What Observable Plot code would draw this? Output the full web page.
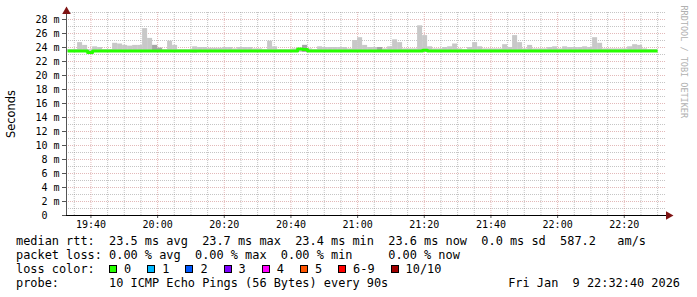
<!DOCTYPE html>
<html><head><meta charset="utf-8">
<script src="https://cdn.jsdelivr.net/npm/d3@7"></script>
<script src="https://cdn.jsdelivr.net/npm/@observablehq/plot@0.6"></script>
<style>
html,body{margin:0;padding:0;background:#fff;}
body{width:697px;height:297px;overflow:hidden;position:relative;}
#chart svg{display:block;}
.leg{position:absolute;left:16px;font:11.9px "DejaVu Sans Mono",monospace;line-height:14px;height:14px;white-space:pre;color:#000;}
.row{display:flex;align-items:center;}
.sw{display:inline-block;width:6px;height:6px;border:1px solid #000;margin-right:7px;}
.lab{margin-right:16px;}
#date{position:absolute;right:17px;top:276px;font:11.9px "DejaVu Sans Mono",monospace;line-height:14px;white-space:pre;color:#000;}
</style></head><body>
<div id="chart"></div>
<script>
// ---- data ----
const startTime = new Date(Date.UTC(2026, 0, 9, 19, 32, 40));
const endTime = new Date(Date.UTC(2026, 0, 9, 22, 32, 40));
const firstStep = new Date(Date.UTC(2026, 0, 9, 19, 33, 0));
const stepSeconds = 90;

// top of the smoke (ms) per 90 s step
const smokeMax = [
 23.7,23.7,24.7,24.3,23.7,24.1,24.0,23.7,23.7,24.6,
 24.5,24.3,24.2,24.3,24.3,26.7,25.3,24.3,23.9,23.7,
 24.9,24.3,23.7,23.7,23.7,24.1,24.0,24.0,23.9,23.9,
 23.9,24.0,24.0,23.8,24.0,24.0,24.0,23.8,23.8,23.7,
 24.9,24.1,23.7,23.7,23.7,23.8,23.8,24.3,23.8,23.7,
 24.1,24.0,24.0,24.0,24.0,24.0,23.8,25.0,25.4,24.3,
 24.0,24.0,24.0,23.8,24.1,25.1,24.7,23.8,23.8,23.8,
 27.1,25.7,24.1,23.8,23.8,24.0,24.1,24.5,23.8,23.7,
 24.0,24.7,24.1,23.8,23.8,23.8,23.8,24.4,24.0,25.7,
 24.7,23.8,24.3,23.8,23.8,23.8,24.0,24.1,23.8,24.1,
 24.0,24.0,24.0,24.1,24.0,25.4,24.6,23.8,23.8,23.8,
 23.8,23.8,24.1,24.4,24.3,23.8,23.7,23.7
];
// bottom of the smoke (ms)
const smokeMin = [
 23.3,23.3,23.3,23.3,23.2,23.3,23.3,23.3,23.3,23.3,
 23.3,23.3,23.3,23.3,23.3,23.3,23.3,23.3,23.3,23.3,
 23.3,23.3,23.3,23.3,23.3,23.2,23.3,23.3,23.3,23.3,
 23.3,23.3,23.3,23.3,23.3,23.3,23.3,23.3,23.3,23.3,
 23.3,23.3,23.3,23.3,23.3,23.3,23.3,23.3,23.3,23.3,
 23.3,23.3,23.3,23.3,23.3,23.3,23.3,23.3,23.3,23.3,
 23.3,23.3,23.3,23.3,23.3,23.3,23.3,23.3,23.3,23.3,
 23.3,23.3,23.3,23.3,23.3,23.3,23.3,23.3,23.3,23.3,
 23.3,23.3,23.3,23.3,23.3,23.3,23.3,23.3,23.3,23.3,
 23.3,23.3,23.3,23.3,23.3,23.3,23.3,23.3,23.3,23.3,
 23.3,23.3,23.3,23.3,23.3,23.3,23.3,23.3,23.3,23.3,
 23.3,23.3,23.3,23.3,23.3,23.3,23.3,23.3
];
// median rtt (ms)
const median = [
 23.5,23.5,23.5,23.5,23.3,23.5,23.5,23.5,23.5,23.5,
 23.5,23.5,23.5,23.5,23.5,23.5,23.5,23.5,23.5,23.5,
 23.5,23.5,23.5,23.5,23.5,23.5,23.5,23.5,23.5,23.5,
 23.5,23.5,23.5,23.5,23.5,23.5,23.5,23.5,23.5,23.5,
 23.5,23.5,23.5,23.5,23.5,23.5,23.8,23.7,23.5,23.5,
 23.5,23.5,23.5,23.5,23.5,23.5,23.5,23.5,23.5,23.5,
 23.5,23.5,23.5,23.5,23.5,23.5,23.5,23.5,23.5,23.5,
 23.5,23.6,23.5,23.5,23.5,23.5,23.5,23.5,23.5,23.5,
 23.5,23.5,23.5,23.5,23.5,23.5,23.5,23.5,23.5,23.5,
 23.5,23.5,23.5,23.5,23.5,23.5,23.5,23.5,23.5,23.5,
 23.5,23.5,23.5,23.5,23.5,23.5,23.5,23.5,23.5,23.5,
 23.5,23.5,23.5,23.5,23.5,23.5,23.5,23.5
];
// darker inner smoke on a few steps
const darkSteps = [17, 18, 47, 62];
const darkTop = [24.3, 23.9, 24.3, 24.0];

const yMajor = [0, 2, 4, 6, 8, 10, 12, 14, 16, 18, 20, 22, 24, 26, 28];
const yMinor = [1, 3, 5, 7, 9, 11, 13, 15, 17, 19, 21, 23, 25, 27, 29];
const xTickLabels = ["19:40", "20:00", "20:20", "20:40", "21:00", "21:20", "21:40", "22:00", "22:20"];

const lossLabels = ["0", "1", "2", "3", "4", "5", "6-9", "10/10"];
const lossColors = ["#26ff00", "#00b8ff", "#0059ff", "#7e00ff", "#ff00ff", "#ff5500", "#ff0000", "#a10000"];

const legendLines = [
  "median rtt:  23.5 ms avg  23.7 ms max  23.4 ms min  23.6 ms now  0.0 ms sd  587.2   am/s",
  "packet loss: 0.00 % avg  0.00 % max  0.00 % min     0.00 % now",
  "loss color:  ",
  "probe:       10 ICMP Echo Pings (56 Bytes) every 90s"
];
const dateText = "Fri Jan  9 22:32:40 2026";
const yLabel = "Seconds";
const watermark = "RRDTOOL / TOBI OETIKER";

// ---- build tables ----
const stepMs = stepSeconds * 1000;
const steps = smokeMax.map((hi, i) => ({
  t1: new Date(+firstStep + i * stepMs),
  t2: new Date(+firstStep + (i + 1) * stepMs),
  lo: smokeMin[i], hi
}));
const darkRows = darkSteps.map((k, j) => ({t1: steps[k].t1, t2: steps[k].t2, lo: smokeMin[k], hi: darkTop[j]}));
const medPts = median.map((v, i) => ({t: steps[i].t1, v}));
medPts.push({t: steps[steps.length - 1].t2, v: median[median.length - 1]});

const dayStr = "2026-01-09T";
const xMajor = xTickLabels.map(s => new Date(dayStr + s + ":00Z"));
const xMinor = d3.utcMinute.every(5).range(startTime, endTime).filter(d => d.getUTCMinutes() % 20 !== 0);

const gridMinor = {stroke: "#8c8c8c", strokeOpacity: 0.5, strokeDasharray: "1,1"};
const gridMajor = {stroke: "#d08a8a", strokeOpacity: 0.6, strokeDasharray: "1,1"};

const chart = Plot.plot({
  width: 697, height: 232,
  marginLeft: 66, marginRight: 31, marginTop: 12, marginBottom: 17,
  style: {fontFamily: "DejaVu Sans Mono", fontSize: "10px", background: "#fff", color: "#000", overflow: "visible"},
  x: {type: "utc", domain: [startTime, endTime]},
  y: {domain: [0, 29]},
  marks: [
    Plot.ruleY(yMinor, gridMinor),
    Plot.ruleY(yMajor.filter(v => v > 0), gridMajor),
    Plot.ruleX(xMinor, gridMinor),
    Plot.ruleX(xMajor, gridMajor),
    Plot.rect(steps, {x1: "t1", x2: "t2", y1: "lo", y2: "hi", fill: "#c8c8c8"}),
    Plot.rect(darkRows, {x1: "t1", x2: "t2", y1: "lo", y2: "hi", fill: "#a6a6a6"}),
    Plot.line(medPts, {x: "t", y: "v", curve: "step-after", stroke: "#26ff00", strokeWidth: 3, strokeLinecap: "butt"}),
    Plot.axisY(yMajor, {
      tickFormat: d => d === 0 ? "0\u00a0\u00a0" : d + "\u00a0m",
      tickSize: 4, tickPadding: 3, label: null, stroke: "#555", fill: "#000"
    }),
    Plot.axisY({ticks: [], tickSize: 0, label: yLabel, labelArrow: false, labelAnchor: "center", labelOffset: 60,
      fontFamily: "DejaVu Sans", fontSize: 11.4, fill: "#000"}),
    Plot.axisX(xMajor, {tickFormat: d3.utcFormat("%H:%M"), tickSize: 3, tickPadding: 2, label: null, stroke: "#555", fill: "#000"}),
    Plot.ruleX([{t: startTime}], {x: "t", y1: () => 0, y2: () => 29, stroke: "#555"}),
    Plot.ruleY([{v: 0}], {y: "v", x1: () => startTime, x2: () => endTime, stroke: "#000"}),
    Plot.dot([{t: startTime, v: 29}], {x: "t", y: "v", symbol: "triangle", r: 3.2, fill: "#7f1414", stroke: null, dy: -1}),
    Plot.dot([{t: endTime, v: 0}], {x: "t", y: "v", symbol: "triangle", r: 3.2, rotate: 90, fill: "#7f1414", stroke: null, dx: 2}),
    Plot.text([watermark], {frameAnchor: "top-right", text: d => d, rotate: 90, textAnchor: "start",
      dx: 21, dy: -7, fill: "#b0b0b0", fontSize: 8.5, fontFamily: "DejaVu Sans Mono"})
  ]
});
document.getElementById("chart").appendChild(chart);

// ---- legend below the SVG ----
legendLines.forEach((line, i) => {
  const div = document.createElement("div");
  div.className = "leg";
  div.style.top = (234 + i * 14) + "px";
  if (i === 2) {
    div.classList.add("row");
    const head = document.createElement("span");
    head.textContent = line;
    div.appendChild(head);
    lossLabels.forEach((lab, j) => {
      const sw = document.createElement("span");
      sw.className = "sw";
      sw.style.background = lossColors[j];
      div.appendChild(sw);
      const t = document.createElement("span");
      t.className = "lab";
      t.textContent = lab;
      div.appendChild(t);
    });
  } else {
    div.textContent = line;
  }
  document.body.appendChild(div);
});
const dt = document.createElement("div");
dt.id = "date";
dt.textContent = dateText;
document.body.appendChild(dt);
</script>
</body></html>
